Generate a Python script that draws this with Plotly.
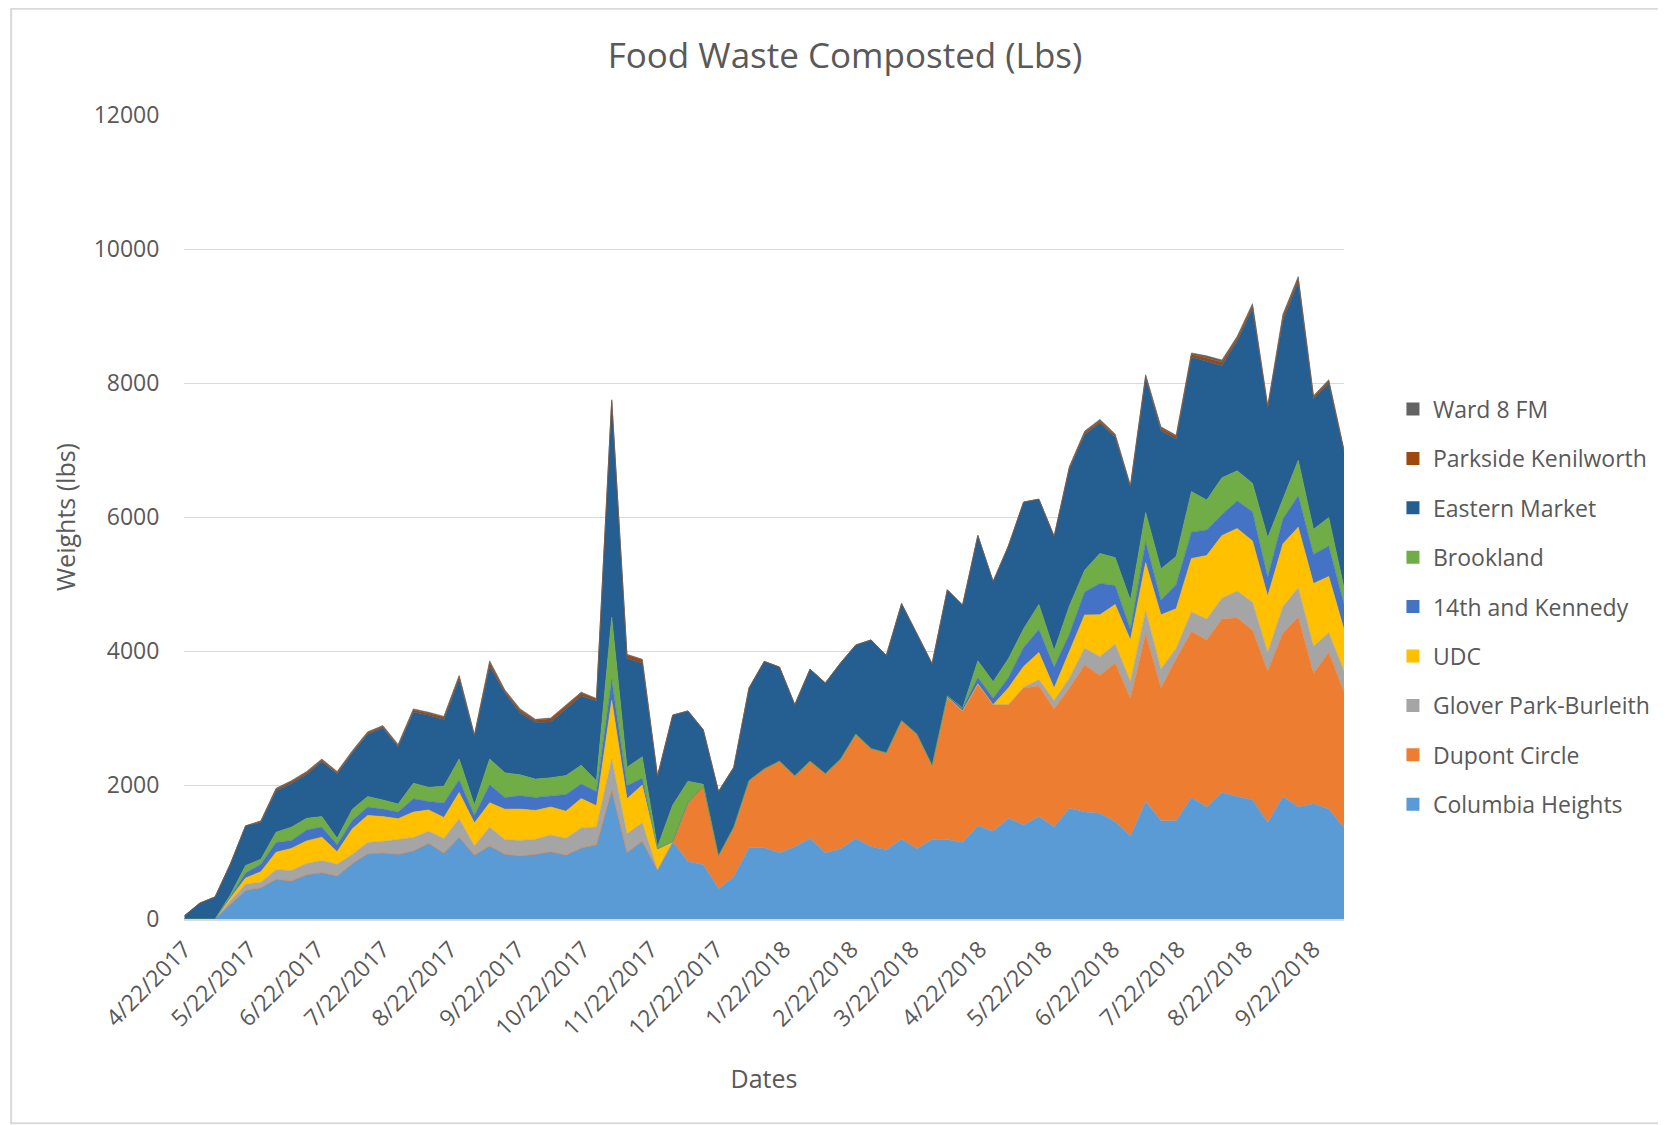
import pandas as pd
import plotly.graph_objects as go

start_date = "2017-04-22"
n_weeks = 77
dates = pd.date_range(start_date, periods=n_weeks, freq="7D")

columbia_heights = [0, 0, 0, 220, 424, 468, 592, 567, 661, 692, 642, 829, 973, 985, 966, 1016, 1129, 985, 1222, 954,
                    1091, 966, 941, 966, 1004, 954, 1060, 1110, 1920, 994, 1160, 730, 1153, 860, 810, 450, 632, 1063, 1063, 985,
                    1079, 1203, 985, 1047, 1203, 1079, 1035, 1191, 1047, 1191, 1185, 1141, 1390, 1309, 1503, 1403, 1528, 1378, 1652, 1596,
                    1577, 1453, 1235, 1752, 1465, 1465, 1814, 1671, 1889, 1827, 1777, 1440, 1827, 1671, 1721, 1640, 1359]
dupont_circle = [0] * 33 + [873, 1170, 495, 740, 1005, 1180, 1372,
                 1060, 1154, 1185, 1341, 1559, 1465, 1447, 1771, 1715, 1104, 2126, 1964, 2120, 1890, 1696, 2045, 1951, 1758, 1796, 2195,
                 2058, 2369, 2057, 2507, 1983, 2419, 2476, 2494, 2588, 2668, 2531, 2257, 2444, 2837, 1945, 2338, 2027]
glover_park = [0, 0, 0, 50, 94, 81, 143, 156, 168, 181, 175, 137, 168, 175, 225, 200, 181, 218, 274, 137,
               281, 218, 231, 225, 250, 250, 300, 262, 468, 277, 276] + [0] * 24 + [10, 94, 125, 150, 249,
               281, 281, 250, 343, 281, 156, 293, 312, 312, 399, 418, 281, 393, 436, 405, 293, 312]
udc = [0, 0, 0, 40, 94, 156, 262, 330, 337, 349, 187, 380, 405, 368, 306, 380, 318, 312, 393, 343,
       362, 455, 468, 430, 418, 405, 437, 318, 873, 525, 564, 315] + [0] * 22 + [249, 312, 405, 187, 405, 499,
       624, 592, 624, 717, 811, 592, 798, 948, 935, 935, 917, 842, 935, 904, 935, 842, 624]
kennedy_14th = [0, 0, 0, 20, 75, 112, 143, 118, 162, 150, 106, 125, 125, 112, 100, 200, 125, 218, 187, 112,
                268, 175, 200, 193, 168, 250, 218, 212, 312, 193, 99] + [0] * 19 + [20, 44, 94, 94, 154, 281, 343, 312, 250, 343,
                468, 281, 156, 312, 218, 362, 393, 380, 312, 412, 436, 281, 374, 468, 436, 455, 374]
brookland = [0, 0, 0, 30, 112, 75, 156, 200, 175, 156, 94, 168, 156, 137, 118, 231, 212, 250, 312, 156,
             387, 368, 312, 274, 268, 281, 281, 162, 935, 276, 321, 30, 550, 324, 30] + [0] * 17 + [249, 249, 281, 281, 374, 249, 420, 324,
             449, 418, 437, 437, 468, 418, 605, 449, 549, 449, 424, 592, 293, 530, 374, 424, 249]
eastern_market = [50, 237, 330, 460, 591, 548, 620, 652, 653, 820, 962, 839, 931, 1075, 856, 1064, 1076, 996, 1192, 1023,
                  1384, 1190, 924, 847, 832, 990, 1035, 1188, 3212, 1625, 1398, 1050, 1340, 1048, 814, 957, 891, 1380, 1602, 1403,
                  1060, 1372, 1353, 1434, 1328, 1621, 1452, 1745, 1497, 1515, 1582, 1536, 1871, 1496, 1683, 1891, 1571, 1702, 2049, 2026,
                  1945, 1795, 1683, 2007, 2060, 1753, 2010, 2071, 1678, 1938, 2606, 1934, 2672, 2663, 1950, 1997, 2028]
parkside_kenilworth = [0, 0, 0, 0, 0, 20, 25, 30, 30, 25, 20, 20, 20, 20, 20, 30, 30, 35, 40, 15,
                       50, 30, 35, 30, 50, 60, 45, 30, 20, 50, 50, 10] + [0] * 26 + [20, 30,
                       30, 30, 20, 30, 40, 40, 40, 50, 50, 40, 50, 20, 60, 50, 30, 40, 20]
ward8_fm = [0, 0, 0, 0, 0, 5, 10, 10, 15, 15, 15, 15, 15, 15, 15, 15, 15, 10, 15, 10,
            30, 15, 25, 15, 10, 10, 10, 10, 10, 10, 10, 0] + [0] * 26 + [10, 20,
            25, 20, 10, 20, 20, 15, 20, 30, 30, 30, 25, 10, 30, 30, 15, 20, 10]

series_names = ["Columbia Heights", "Dupont Circle", "Glover Park-Burleith", "UDC", "14th and Kennedy",
                "Brookland", "Eastern Market", "Parkside Kenilworth", "Ward 8 FM"]
series_values = [columbia_heights, dupont_circle, glover_park, udc, kennedy_14th,
                 brookland, eastern_market, parkside_kenilworth, ward8_fm]
colors = ["#5B9BD5", "#ED7D31", "#A5A5A5", "#FFC000", "#4472C4", "#70AD47", "#255E91", "#9E480E", "#636363"]

# ticks on the 22nd of every month, 4/22/2017 .. 9/22/2018
tick_dates = pd.date_range("2017-04-01", "2018-09-01", freq="MS") + pd.Timedelta(days=21)
tick_vals = [d.strftime("%Y-%m-%d") for d in tick_dates]
tick_text = [f"{d.month}/{d.day}/{d.year}" for d in tick_dates]

FONT = "Open Sans"
GREY = "#595959"

fig = go.Figure()
# stacked areas (bottom to top)
for name, vals, col in zip(series_names, series_values, colors):
    fig.add_trace(go.Scatter(
        x=dates, y=vals, name=name, mode="lines", stackgroup="one",
        line=dict(width=0.6, color=col), fillcolor=col, showlegend=False,
    ))
# legend entries with square swatches, top item = last series
for name, col in reversed(list(zip(series_names, colors))):
    fig.add_trace(go.Scatter(
        x=[None], y=[None], name=name, mode="markers", legendgroup=name, showlegend=True,
        marker=dict(symbol="square", size=13, color=col), hoverinfo="skip",
    ))

L, T, W, H = 176, 107, 1160, 804
x_start = (dates[0] - pd.Timedelta(hours=6)).strftime("%Y-%m-%d %H:%M")
x_end = dates[-1].strftime("%Y-%m-%d")

fig.update_layout(
    width=1666, height=1125,
    paper_bgcolor="white", plot_bgcolor="white",
    margin=dict(l=L, r=1666 - L - W, t=T, b=1125 - T - H, autoexpand=False),
    font=dict(family=FONT, color=GREY),
    title=dict(text="Food Waste Composted (Lbs)", x=0.5024, xanchor="center", y=0.958, yanchor="middle",
               font=dict(size=35, color=GREY, family=FONT)),
    showlegend=True,
    legend=dict(x=1.0422, xanchor="left", y=0.388, yanchor="middle", traceorder="grouped",
                tracegroupgap=16.5, font=dict(size=23, color=GREY), itemwidth=30, bgcolor="rgba(0,0,0,0)"),
    xaxis=dict(
        type="date", range=[x_start, x_end], tickmode="array", tickvals=tick_vals, ticktext=tick_text,
        tickangle=-45, ticklabeloverflow="allow",
        tickfont=dict(size=23, color=GREY), showgrid=False, showline=True, linecolor="#D9D9D9", linewidth=1.5,
        ticks="outside", ticklen=6, tickcolor="rgba(0,0,0,0)", automargin=False,
        title=dict(text="Dates", font=dict(size=25, color=GREY), standoff=29),
    ),
    yaxis=dict(
        range=[0, 12000], dtick=2000, tickformat="d", tickfont=dict(size=23, color=GREY),
        showgrid=True, gridcolor="#D9D9D9", gridwidth=1, zeroline=False,
        ticks="outside", ticklen=19, tickcolor="rgba(0,0,0,0)", automargin=False,
        title=dict(text="Weights (lbs)", font=dict(size=25, color=GREY), standoff=10),
    ),
    shapes=[dict(type="rect", xref="paper", yref="paper", x0=-0.149, x1=1.5, y0=-0.254, y1=1.132,
                 line=dict(color="#D9D9D9", width=2), fillcolor="rgba(0,0,0,0)", layer="below")],
)

fig.write_html("out.html")
